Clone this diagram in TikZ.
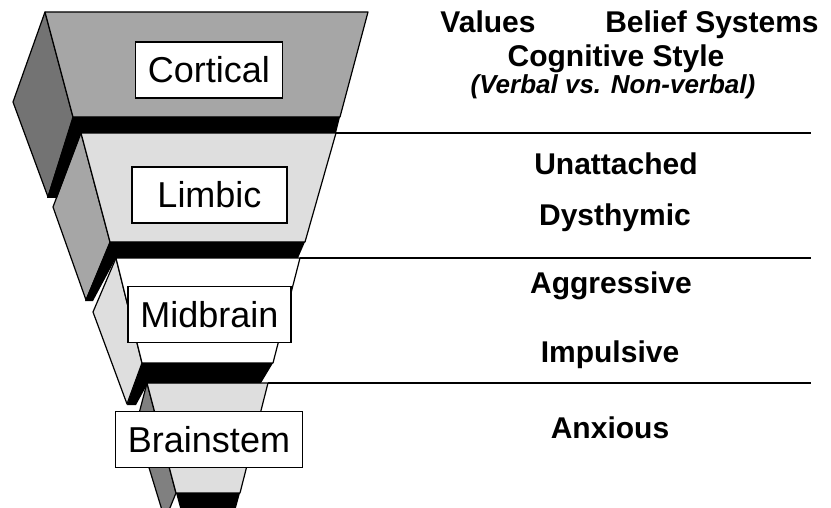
\documentclass[tikz,border=0pt]{standalone}
\usepackage{fontspec}
\setmainfont{Liberation Sans}
\tikzset{
  outline/.style={draw=black,line width=0.6pt,line join=round},
  band/.style={fill=black},
  namebox/.style={draw=black,fill=white,line width=0.7pt,inner xsep=6.25pt,inner ysep=0pt,minimum height=28pt,font=\fontsize{18}{20}\selectfont},
  trait/.style={anchor=base,font=\bfseries\fontsize{15}{17}\selectfont},
  divider/.style={line width=1pt}
}
\begin{document}
\begin{tikzpicture}[x=0.5pt,y=-0.5pt]
\useasboundingbox (0,0) rectangle (831,508);
\clip (0,0) rectangle (831,508);
%Brainstem
\filldraw[outline,fill=black!50] (147,383) -- (136,425) -- (165,520) -- (176,493) -- cycle;
\filldraw[outline,fill=black!13] (147,383) -- (268,383) -- (240,493) -- (176,493) -- cycle;
\fill[band] (176,493) -- (240,493) -- (234,515) -- (182,515) -- cycle;
%Midbrain
\filldraw[outline,fill=black!13] (116,258) -- (93,312) -- (127,404) -- (142,363) -- cycle;
\filldraw[outline,fill=white] (116,258) -- (300,258) -- (273,363) -- (142,363) -- cycle;
\fill[band] (142,363) -- (273,363) -- (261,383) -- (148,383) -- (136,405) -- (127,405) -- cycle;
%Limbic
\filldraw[outline,fill=black!35] (81,133) -- (53,207) -- (86,300) -- (110,242) -- cycle;
\filldraw[outline,fill=black!13] (81,133) -- (336,133) -- (305,242) -- (110,242) -- cycle;
\fill[band] (110,242) -- (305,242) -- (298,258) -- (116,258) -- (93,301) -- (85,301) -- cycle;
%Cortical
\filldraw[outline,fill=black!55] (45,12) -- (13,102) -- (48,197) -- (73,117) -- cycle;
\filldraw[outline,fill=black!35] (45,12) -- (368,12) -- (340,117) -- (73,117) -- cycle;
\fill[band] (73,117) -- (340,117) -- (336,133) -- (81,133) -- (57,198) -- (47,198) -- cycle;
%Level names
\node[namebox] (cortical) at (209,70) {Cortical};
\node[namebox,minimum width=77.5pt] (limbic) at (209.5,195) {Limbic};
\node[namebox] (midbrain) at (209.5,314.5) {Midbrain};
\node[namebox] (brainstem) at (209,439.5) {Brainstem};
%Dividers
\coordinate (top1) at (336,133);
\coordinate (top2) at (300,258);
\coordinate (top3) at (268,383);
\coordinate (end1) at (811,133);
\coordinate (end2) at (811,258);
\coordinate (end3) at (811,383);
\draw[divider] (top1) -- (end1);
\draw[divider] (top2) -- (end2);
\draw[divider] (top3) -- (end3);
%Traits
\node[trait] (values) at (488,33) {Values};
\node[trait] (belief) at (712,33) {Belief Systems};
\node[trait] (cognitive) at (616,67) {Cognitive Style};
\node[trait,font=\bfseries\itshape\fontsize{13}{15}\selectfont] (verbal) at (613,94) {(Verbal vs. Non-verbal)};
\node[trait] (unattached) at (616,175) {Unattached};
\node[trait] (dysthymic) at (615,226) {Dysthymic};
\node[trait] (aggressive) at (611,293) {Aggressive};
\node[trait] (impulsive) at (610,362) {Impulsive};
\node[trait] (anxious) at (610,438) {Anxious};
\end{tikzpicture}
\end{document}
